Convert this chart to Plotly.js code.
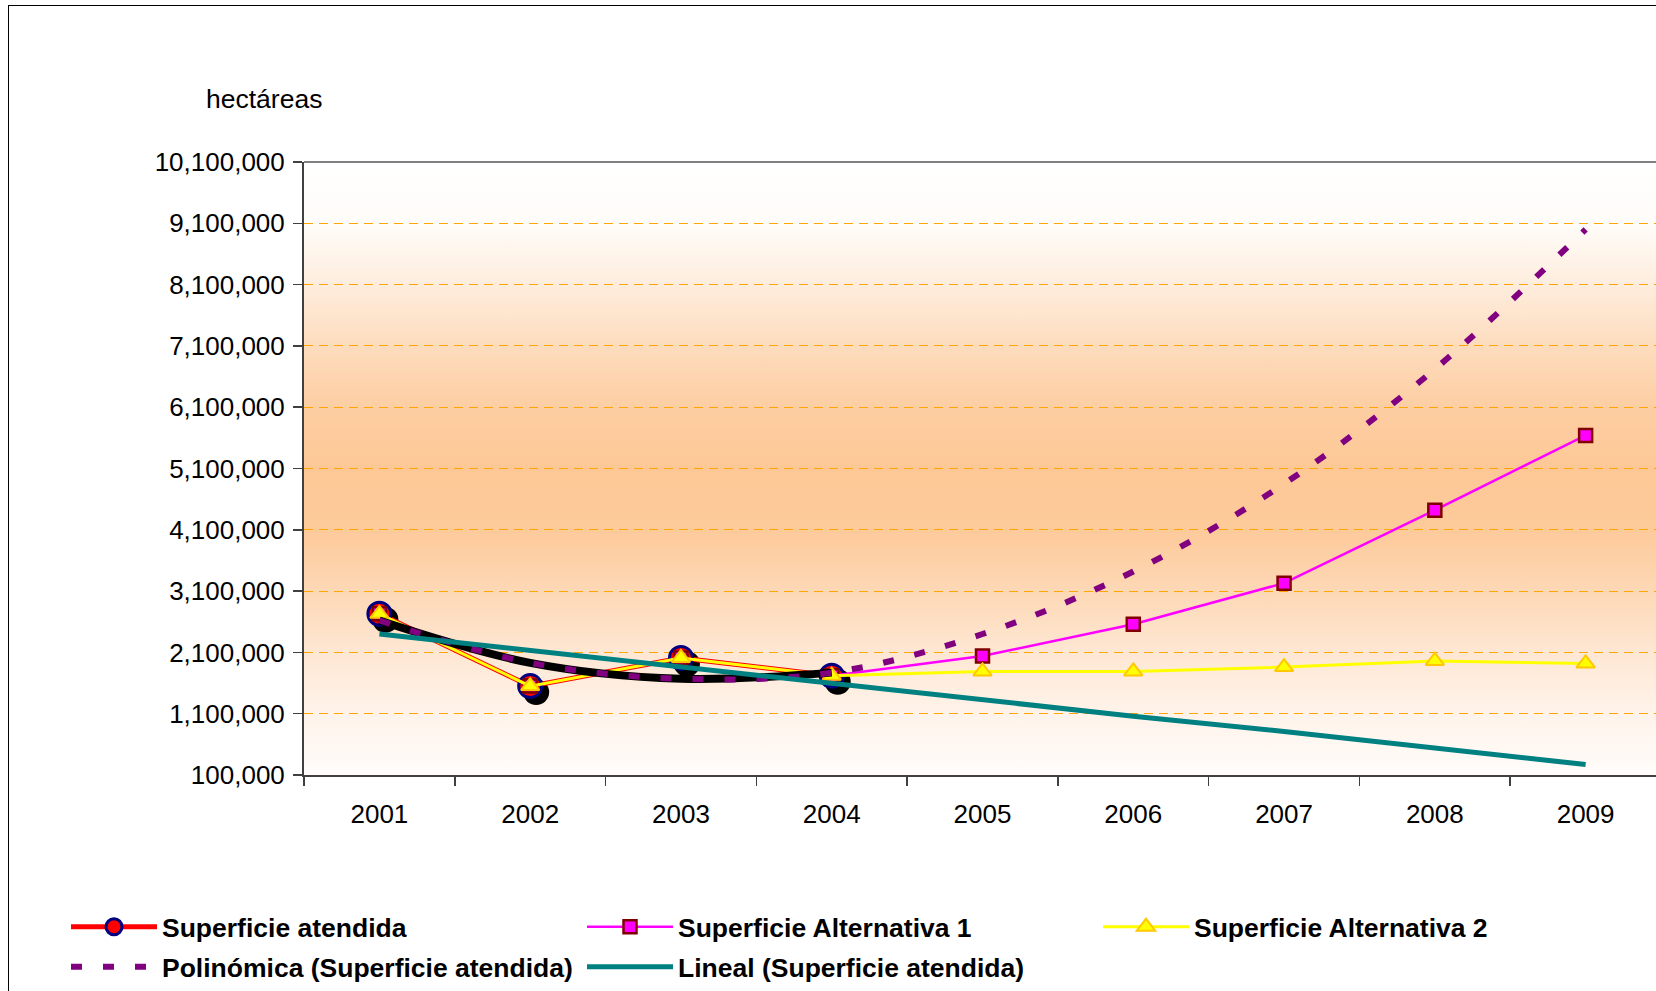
<!DOCTYPE html>
<html>
<head>
<meta charset="utf-8">
<script src="https://cdn.plot.ly/plotly-3.0.1.min.js"></script>
<style>
html, body { margin:0; padding:0; overflow:hidden; background:#ffffff; width:1656px; height:991px; }
#frame { position:absolute; left:8px; top:5px; width:1700px; height:1000px; border-left:1px solid #000; border-top:1px solid #000; }
#bg { position:absolute; left:304px; top:162px; width:1357px; height:613px;
  background: linear-gradient(to bottom, #ffffff 0%, #fffcf9 10%, #feeddd 20%, #fddcbd 30%, #fdcea3 40%, #fdc896 50%, #fdca9a 60%, #fdd8b5 70%, #fee7d3 80%, #fff3ea 90%, #fffcfa 100%); }
#chart { position:absolute; left:0; top:0; width:1700px; height:1000px; }
</style>
</head>
<body>
<div id="frame"></div>
<div id="bg"></div>
<div id="chart"></div>
<script>
// ---- data ----
const years = ['2001','2002','2003','2004','2005','2006','2007','2008','2009'];
const atendidaYears = ['2001','2002','2003','2004'];
const atendida   = [2730000, 1550000, 2010000, 1720000];
const alt1       = [2730000, 1550000, 2010000, 1720000, 2040000, 2560000, 3230000, 4420000, 5640000];
const alt2       = [2730000, 1550000, 2010000, 1720000, 1790000, 1790000, 1860000, 1960000, 1920000];
const polinomica = [2620000, 1930000, 1670000, 1770000, 2400000, 3420000, 4850000, 6720000, 9000000];
const lineal     = [2400000, 2130000, 1870000, 1600000, 1340000, 1060000, 810000, 550000, 270000];
const yTickVals  = [100000, 1100000, 2100000, 3100000, 4100000, 5100000, 6100000, 7100000, 8100000, 9100000, 10100000];
const yTickText  = ['100,000','1,100,000','2,100,000','3,100,000','4,100,000','5,100,000','6,100,000','7,100,000','8,100,000','9,100,000','10,100,000'];
const names = ['Superficie atendida','Superficie Alternativa 1','Superficie Alternativa 2','Polinómica (Superficie atendida)','Lineal (Superficie atendida)'];

// ---- geometry ----
const W = 1700, H = 1000, L = 304, T = 162, PW = 1357, PH = 613;
const xr = [-0.5, 8.5], yr = [100000, 10100000];
const px2x = px => (px - L) / PW;
const py2y = py => (T + PH - py) / PH;
const shadowDX = 6, shadowDY = 6;
const xPerPx = (xr[1] - xr[0]) / PW, yPerPx = (yr[1] - yr[0]) / PH;

const FONT = 'Liberation Sans, Arial, sans-serif';

const traces = [
  { x: years, y: years.map(() => null), xaxis:'x', yaxis:'y', type:'scatter', mode:'lines', showlegend:false, hoverinfo:'skip' },
  { x: atendidaYears, y: atendida, xaxis:'x2', yaxis:'y2', type:'scatter', mode:'markers', showlegend:false, hoverinfo:'skip',
    marker:{ symbol:'circle', size:26, color:'#000000', line:{width:0} } },
  { name: names[0], x: atendidaYears, y: atendida, xaxis:'x3', yaxis:'y3', type:'scatter', mode:'lines+markers', legend:'legend',
    line:{ color:'#FF0000', width:5 },
    marker:{ symbol:'circle', size:23, color:'#FF0000', line:{ color:'#000080', width:3 } } },
  { name: names[1], x: years, y: alt1, xaxis:'x3', yaxis:'y3', type:'scatter', mode:'lines+markers', legend:'legend',
    line:{ color:'#FF00FF', width:2.5 },
    marker:{ symbol:'square', size:13, color:'#FF00FF', line:{ color:'#800000', width:2.5 } } },
  { name: names[2], x: years, y: alt2, xaxis:'x3', yaxis:'y3', type:'scatter', mode:'lines+markers', legend:'legend',
    line:{ color:'#FFFF00', width:3 },
    marker:{ symbol:'triangle-up', size:16, color:'#FFFF00', line:{ color:'#FFC800', width:2 } } },
  { x: atendidaYears, y: polinomica.slice(0, 4), xaxis:'x3', yaxis:'y3', type:'scatter', mode:'lines', showlegend:false, hoverinfo:'skip',
    line:{ color:'#000000', width:8, shape:'spline' } },
  { name: names[3], x: years, y: polinomica, xaxis:'x3', yaxis:'y3', type:'scatter', mode:'lines', legend:'legend2',
    line:{ color:'#800080', width:6, dash:'11px,21px', shape:'spline' } },
  { name: names[4], x: years, y: lineal, xaxis:'x3', yaxis:'y3', type:'scatter', mode:'lines', legend:'legend2',
    line:{ color:'#008080', width:5 } }
];

const hidX = { type:'category', visible:false, domain:[0,1], fixedrange:true };
const hidY = { visible:false, domain:[0,1], fixedrange:true };

const legendBase = {
  orientation:'h', xanchor:'left', yanchor:'middle', x: px2x(66),
  font:{ family:FONT, size:26.5, color:'#000000', weight:'bold' },
  itemwidth: 86, entrywidth: 415, entrywidthmode:'pixels',
  bgcolor:'rgba(0,0,0,0)', borderwidth:0, traceorder:'normal', itemclick:false, itemdoubleclick:false
};

const layout = {
  width: W, height: H,
  margin:{ l:L, r:W - L - PW, t:T, b:H - T - PH, pad:0, autoexpand:false },
  paper_bgcolor:'rgba(0,0,0,0)', plot_bgcolor:'rgba(0,0,0,0)',
  font:{ family:FONT, size:26, color:'#000000' },
  xaxis:{ type:'category', range:xr, domain:[0,1], anchor:'y', tickson:'boundaries', ticks:'outside', ticklen:9, tickwidth:1.5, tickcolor:'#404040',
    showline:true, linecolor:'#404040', linewidth:2, showgrid:false, zeroline:false,
    tickfont:{ family:FONT, size:26, color:'#000000' }, ticklabelstandoff:15, fixedrange:true },
  yaxis:{ range:yr, domain:[0,1], anchor:'x', tickmode:'array', tickvals:yTickVals, ticktext:yTickText, ticks:'outside', ticklen:9, tickwidth:1.5, tickcolor:'#404040',
    showline:true, linecolor:'#404040', linewidth:2, showgrid:true, gridcolor:'#FFA500', gridwidth:1, griddash:'9px,6px', zeroline:false,
    tickfont:{ family:FONT, size:26, color:'#000000' }, ticklabelstandoff:3, fixedrange:true },
  xaxis2: Object.assign({}, hidX, { anchor:'y2', range:[xr[0] - shadowDX * xPerPx, xr[1] - shadowDX * xPerPx] }),
  yaxis2: Object.assign({}, hidY, { anchor:'x2', range:[yr[0] + shadowDY * yPerPx, yr[1] + shadowDY * yPerPx] }),
  xaxis3: Object.assign({}, hidX, { anchor:'y3', range:xr }),
  yaxis3: Object.assign({}, hidY, { anchor:'x3', range:yr }),
  legend: Object.assign({}, legendBase, { y: py2y(927) }),
  legend2: Object.assign({}, legendBase, { y: py2y(967) }),
  shapes:[
    { type:'line', xref:'paper', yref:'paper', x0:0, x1:1, y0:1, y1:1, line:{ color:'#808080', width:2 }, layer:'above' }
  ],
  annotations:[
    { text:'hectáreas', xref:'paper', yref:'paper', x:px2x(204), y:py2y(99), xanchor:'left', yanchor:'middle', showarrow:false,
      font:{ family:FONT, size:26.5, color:'#000000' } }
  ],
  hovermode:false
};

Plotly.newPlot('chart', traces, layout, { staticPlot:true, displayModeBar:false });
</script>
</body>
</html>
